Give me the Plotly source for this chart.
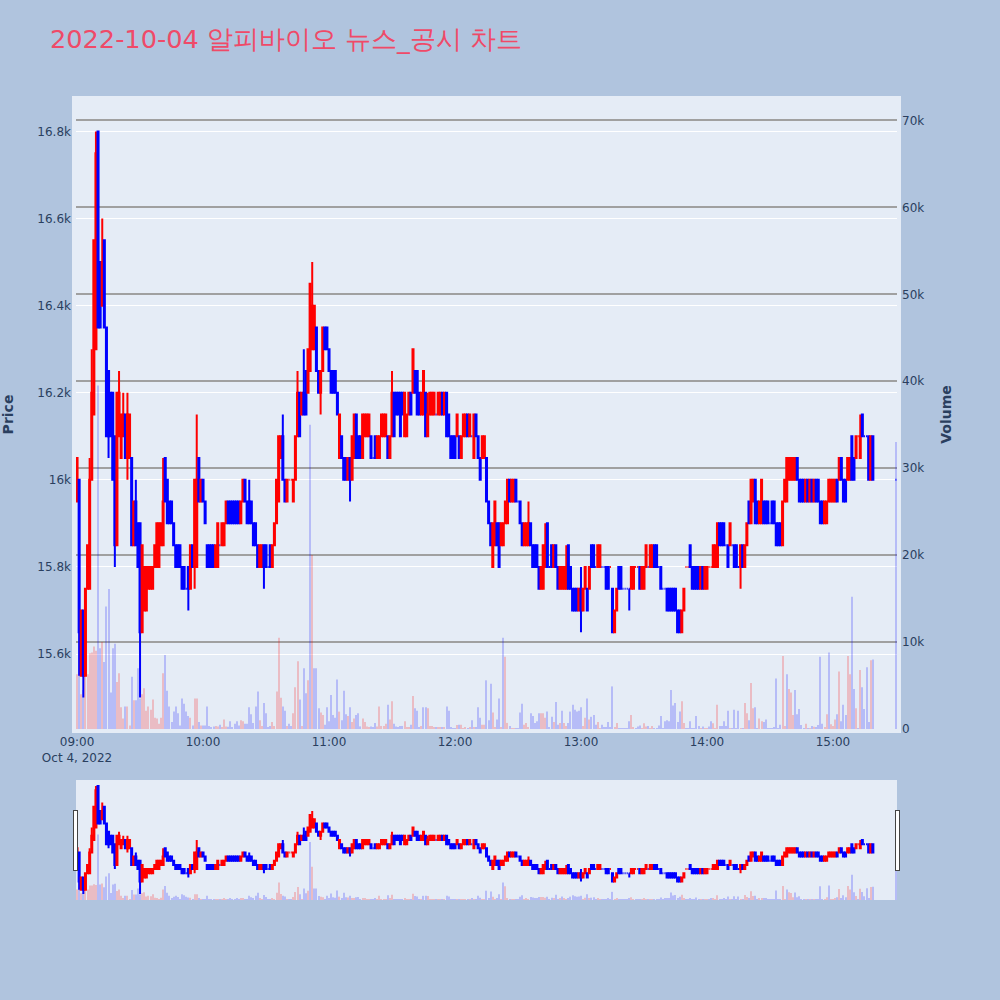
import plotly.graph_objects as go

minutes = list(range(380)) + [390]

open_prices = [
15950,16000,15550,15700,15550,15750,15750,16000,16150,16300,
16800,16500,16400,16550,16350,16250,16200,16200,16100,15850,
16100,16050,16100,16150,16050,16050,16050,15850,15950,15900,
15900,15650,15700,15700,15750,15750,15750,15800,15800,15800,
15850,15850,16050,16000,15950,15950,15900,15850,15850,15850,
15800,15800,15750,15800,15750,15850,15800,15800,16050,15950,
16000,15950,15850,15850,15850,15850,15800,15800,15850,15850,
15850,15900,15950,15950,15950,15950,15950,15950,15900,15950,
16000,15950,15950,15950,15900,15900,15850,15800,15800,15850,
15850,15800,15850,15800,15850,15900,15950,16050,16100,16000,
15950,16000,16000,15950,16000,16100,16200,16150,16200,16250,
16200,16250,16300,16300,16350,16250,16200,16250,16350,16350,
16300,16250,16250,16250,16200,16050,16100,16050,16050,16000,
16050,16000,16050,16150,16100,16100,16050,16100,16100,16100,
16100,16050,16100,16050,16050,16100,16100,16100,16100,16050,
16100,16200,16200,16200,16200,16200,16100,16100,16150,16200,
16200,16250,16250,16200,16150,16150,16200,16100,16150,16150,
16150,16150,16150,16150,16200,16150,16200,16150,16100,16100,
16100,16100,16100,16050,16100,16100,16150,16100,16100,16050,
16150,16100,16050,16050,16050,16050,15950,15900,15800,15850,
15900,15900,15850,15850,15900,15900,16000,15950,15950,16000,
15950,15950,15900,15850,15850,15850,15900,15850,15850,15850,
15800,15750,15750,15800,15900,15800,15850,15800,15850,15800,
15750,15750,15750,15750,15850,15800,15750,15750,15750,15700,
15750,15700,15750,15750,15750,15850,15850,15800,15800,15800,
15800,15800,15800,15800,15800,15750,15650,15700,15800,15800,
15750,15750,15750,15750,15750,15750,15800,15800,15800,15750,
15750,15800,15800,15800,15800,15850,15850,15800,15800,15750,
15750,15750,15750,15750,15750,15750,15700,15700,15650,15700,
15800,15800,15850,15800,15800,15800,15800,15750,15800,15750,
15750,15800,15800,15800,15800,15800,15900,15900,15900,15850,
15850,15850,15850,15850,15850,15800,15800,15850,15800,15850,
15950,15900,15950,16000,15950,15900,15900,15950,15950,15950,
15900,15950,15950,15900,15900,15900,15850,15950,15950,16000,
16000,16000,16000,16050,16000,16000,16000,15950,16000,15950,
16000,15950,16000,16000,15950,15950,15900,15900,15950,15950,
15950,15950,16000,16000,16050,16000,16000,16000,16000,16100,
16050,16050,16100,16050,16150,16100,16100,16100,16000,16100,
16000]

close_prices = [
16050,15650,15700,15550,15750,15850,16000,16200,16550,16750,
16350,16350,16500,16350,16100,16100,16100,16000,15850,16200,
16200,16150,16150,16050,16150,16150,15850,15950,15850,15800,
15650,15850,15800,15800,15800,15800,15800,15850,15900,15900,
15900,15950,15950,15900,15900,15900,15850,15800,15800,15800,
15750,15750,15750,15750,15850,15800,16000,16000,15950,16000,
15950,15900,15800,15800,15800,15800,15850,15900,15850,15900,
15900,15950,15900,15900,15900,15900,15900,15900,15950,16000,
15950,15900,15900,15900,15850,15850,15800,15850,15850,15800,
15800,15800,15800,15850,15900,16000,16100,16100,16000,15950,
16000,16000,16000,16000,16100,16200,16100,16200,16150,16150,
16300,16450,16400,16400,16250,16200,16250,16350,16300,16300,
16250,16200,16200,16200,16150,16150,16050,16000,16000,16050,
16000,16100,16150,16050,16050,16050,16150,16150,16150,16150,
16050,16050,16050,16100,16100,16150,16150,16150,16050,16100,
16200,16100,16150,16150,16100,16150,16200,16150,16200,16150,
16300,16200,16150,16150,16200,16250,16100,16150,16200,16200,
16200,16150,16200,16200,16150,16200,16100,16100,16050,16050,
16050,16150,16050,16100,16150,16150,16100,16150,16100,16150,
16100,16050,16000,16100,16100,15950,15900,15850,15900,15950,
15850,15800,15900,15900,15950,16000,15950,16000,16000,15950,
15950,15900,15850,15900,15900,15900,15850,15800,15800,15800,
15750,15800,15850,15850,15800,15800,15800,15850,15800,15750,
15800,15800,15800,15800,15750,15750,15700,15700,15700,15750,
15700,15750,15800,15700,15800,15800,15800,15800,15850,15850,
15800,15800,15750,15750,15800,15650,15700,15750,15750,15750,
15750,15750,15750,15750,15800,15800,15800,15800,15750,15800,
15800,15850,15800,15850,15850,15800,15800,15800,15750,15750,
15750,15700,15700,15700,15700,15700,15650,15650,15700,15750,
15800,15800,15800,15750,15750,15750,15750,15800,15750,15800,
15800,15800,15800,15850,15850,15900,15850,15850,15850,15850,
15800,15900,15850,15800,15800,15800,15850,15800,15850,15900,
15900,16000,16000,15900,15900,15950,16000,15900,15900,15900,
15900,15900,15900,15850,15850,15850,15950,16000,16050,16050,
16050,16050,16050,16000,15950,15950,15950,16000,15950,16000,
15950,16000,15950,15950,15900,15900,15950,15950,16000,16000,
16000,16000,15950,16050,16000,15950,15950,16050,16050,16000,
16000,16100,16100,16100,16100,16100,16100,16000,16100,16000,
16000]

high_wicks = {6:16050,7:16300,9:16800,12:16600,20:16250,22:16200,24:16200,28:16000,41:16050,57:16150,
82:16000,98:16150,105:16250,108:16300,112:16500,150:16250,167:16200,215:15950,223:15900,233:15850,240:15800,373:16150}
low_wicks = {1:15550,3:15500,15:16050,18:15800,24:16000,30:15500,53:15700,56:15750,89:15750,116:16150,130:15950,240:15650,263:15700,316:15750}

volumes = [
6300,16000,4000,4500,7600,6300,8700,8800,9500,9000,
39500,9300,10000,7700,14100,16100,4200,9300,9800,5400,
6400,2500,1200,2600,2600,400,6000,3300,3300,7000,
3500,4000,4700,2100,2600,2200,3400,1300,1200,600,
1300,6400,8500,4400,2600,800,2000,2600,1800,400,
3500,2900,2000,1500,1300,400,3500,3500,800,400,
400,400,2600,350,200,300,350,300,500,200,
1100,300,250,900,200,600,900,400,1000,900,
600,600,2500,1700,700,2600,4300,1000,350,3000,
1800,150,350,800,350,4300,10500,3600,2600,2100,
350,600,350,1800,4800,7800,3400,350,7000,4100,
5600,35000,20000,7000,7000,2400,1900,1600,500,2500,
900,3900,1600,1300,5700,2000,1000,4400,1700,1500,
2500,800,1200,1600,1800,300,1200,800,300,200,
300,150,700,300,2600,350,350,600,2800,1100,
3200,600,300,200,350,350,900,150,150,500,
3800,2400,2100,150,350,2500,2500,2400,350,350,
200,200,150,200,150,150,2600,2100,150,100,
100,450,500,500,100,150,100,150,1000,150,
200,2500,1300,500,500,5600,1000,5200,1900,150,
1100,3500,200,10500,8300,700,350,100,100,100,
100,1900,2900,500,700,200,1800,1500,700,900,
1800,1800,1800,1300,2000,200,1400,800,3100,500,
700,2100,700,350,700,2000,2800,2200,2000,2100,
2500,350,1300,3500,1100,1400,1600,500,800,100,
500,150,150,800,150,4900,150,700,100,100,
100,100,100,900,1600,150,100,300,400,100,
650,300,350,100,350,100,100,400,1500,100,
900,1000,900,4500,2700,3000,800,2000,3200,700,
100,100,900,100,100,1500,350,100,300,100,
100,300,900,650,100,2800,350,350,900,350,
2100,100,100,2200,100,2100,100,100,3000,1800,
1000,5300,2400,2500,100,1200,900,800,1100,100,
100,100,200,5800,100,500,8400,350,6300,4600,
4200,1600,4500,1700,2300,450,100,600,100,100,
350,250,150,450,8300,600,200,1700,8800,550,
350,1100,1700,6600,900,2800,1600,8400,6300,15200,
4600,2400,100,6800,4800,2300,7100,800,7900,8000,
33000]

blue_volume_minutes = [111, 113, 165, 203, 231, 239, 338, 342, 358]

assert len(open_prices) == len(close_prices) == len(volumes) == len(minutes)

times = [f"2022-10-04 {9 + m // 60:02d}:{m % 60:02d}:00" for m in minutes]
high_prices = [max(o, c, high_wicks.get(i, 0)) for i, (o, c) in enumerate(zip(open_prices, close_prices))]
low_prices = [min(o, c, low_wicks.get(i, 99999)) for i, (o, c) in enumerate(zip(open_prices, close_prices))]
bar_colors = ["red" if c > o and i not in blue_volume_minutes else "blue"
              for i, (o, c) in enumerate(zip(open_prices, close_prices))]

fig = go.Figure()
fig.add_trace(go.Candlestick(
    x=times, open=open_prices, high=high_prices, low=low_prices, close=close_prices,
    increasing=dict(line=dict(color="red"), fillcolor="red"),
    decreasing=dict(line=dict(color="blue"), fillcolor="blue"),
    showlegend=False, yaxis="y"))
fig.add_trace(go.Bar(x=times, y=volumes, marker=dict(color=bar_colors, line=dict(width=0)),
                     opacity=0.2, showlegend=False, yaxis="y2"))
fig.update_layout(
    width=1000, height=1000, autosize=False,
    font=dict(family="DejaVu Sans"),
    paper_bgcolor="#B0C4DE", plot_bgcolor="#E5ECF6",
    margin=dict(l=76, r=103, t=100, b=100, pad=4),
    title=dict(text="2022-10-04 알피바이오 뉴스_공시 차트", x=0.05, y=0.961, yanchor="middle",
               font=dict(size=25.6, color="#EF4A68")),
    xaxis=dict(rangeslider=dict(visible=True), showgrid=False),
    yaxis=dict(title=dict(text="<b>Price</b>", font=dict(size=14), standoff=30), automargin=False,
               gridcolor="white", gridwidth=1, zeroline=False),
    yaxis2=dict(title=dict(text="<b>Volume</b>", font=dict(size=14), standoff=21), automargin=False,
                overlaying="y", side="right",
                range=[0, 72350], dtick=10000, gridcolor="#a0a0a0", gridwidth=1.5, zeroline=False),
    bargap=0.5,
)
fig.write_html("out.html", post_script="document.body.style.margin='0';", config=dict(displayModeBar=False))
